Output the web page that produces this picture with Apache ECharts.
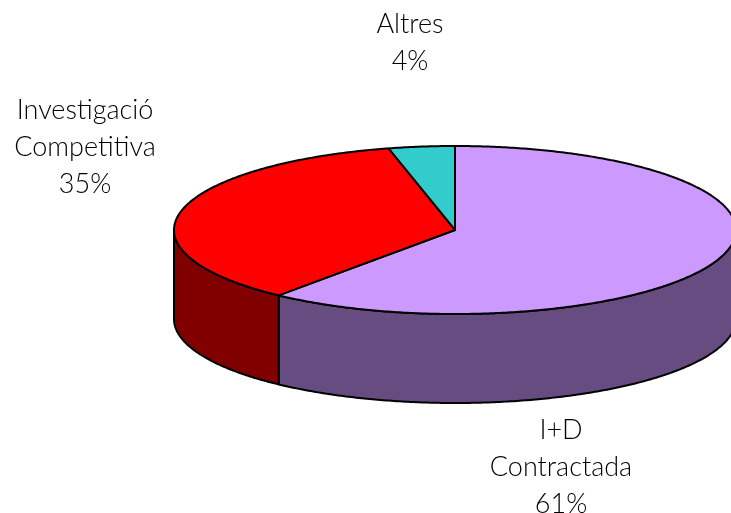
<!DOCTYPE html>
<html>
<head>
<meta charset="utf-8">
<style>
  html, body { margin: 0; padding: 0; background: #fff; }
  #main { width: 731px; height: 513px; }
</style>
</head>
<body>
<div id="main"></div>
<script src="https://cdn.jsdelivr.net/npm/echarts@6/dist/echarts.min.js"></script>
<script>
// valors llegits del grafic (les etiquetes els arrodoneixen)
var categories = ['I+D\nContractada', 'Investigació\nCompetitiva', 'Altres'];
var shares = [60.8, 35.4, 3.8];
var topColors = ['#CC99FF', '#FF0000', '#33CCCC'];
var sideColors = ['#664C80', '#800000', '#1A6666'];

// geometria del pastis "3D"
var cx = 455, cy = 230, rx = 281, ry = 84, depth = 89;
var labelX = [561, 85, 410];
var labelY = [467, 147, 43];

var total = shares.reduce(function (a, b) { return a + b; }, 0);

function startAngle(idx) {
  var sum = 0;
  for (var i = 0; i < idx; i++) sum += shares[i];
  return sum / total * Math.PI * 2;
}

// angle 0 = dalt, sentit horari
function rim(a, dy) {
  return [cx + rx * Math.sin(a), cy - ry * Math.cos(a) + (dy || 0)];
}

function arc(a0, a1, dy) {
  var pts = [];
  var n = Math.max(2, Math.ceil(Math.abs(a1 - a0) / 0.01));
  for (var i = 0; i <= n; i++) pts.push(rim(a0 + (a1 - a0) * i / n, dy));
  return pts;
}

var edge = { stroke: '#000', lineWidth: 2, lineJoin: 'round' };

function renderSide(params, api) {
  var i = params.dataIndex;
  // nomes es veu la part frontal (de 90 a 270 graus)
  var a0 = Math.max(startAngle(i), Math.PI / 2);
  var a1 = Math.min(startAngle(i) + api.value(0) / total * Math.PI * 2, Math.PI * 3 / 2);
  if (a1 <= a0) return { type: 'group', children: [] };
  var pts = arc(a0, a1, 0).concat(arc(a1, a0, depth));
  return {
    type: 'polygon',
    shape: { points: pts },
    style: Object.assign({ fill: sideColors[i] }, edge)
  };
}

function renderTop(params, api) {
  var i = params.dataIndex;
  var a0 = startAngle(i);
  var a1 = a0 + api.value(0) / total * Math.PI * 2;
  return {
    type: 'polygon',
    shape: { points: [[cx, cy]].concat(arc(a0, a1, 0)) },
    style: Object.assign({ fill: topColors[i] }, edge)
  };
}

function renderLabel(params, api) {
  var i = params.dataIndex;
  return {
    type: 'text',
    style: {
      text: categories[i] + '\n' + Math.round(api.value(0)) + '%',
      x: labelX[i],
      y: labelY[i],
      align: 'center',
      verticalAlign: 'middle',
      lineHeight: 37,
      font: '300 27px Lato',
      fill: '#000'
    }
  };
}

var chart = echarts.init(document.getElementById('main'), null, { renderer: 'canvas' });
chart.setOption({
  animation: false,
  backgroundColor: '#fff',
  series: [
    { type: 'custom', coordinateSystem: 'none', renderItem: renderSide, data: shares, z: 1 },
    { type: 'custom', coordinateSystem: 'none', renderItem: renderTop, data: shares, z: 2 },
    { type: 'custom', coordinateSystem: 'none', renderItem: renderLabel, data: shares, z: 3 }
  ]
});
</script>
</body>
</html>
